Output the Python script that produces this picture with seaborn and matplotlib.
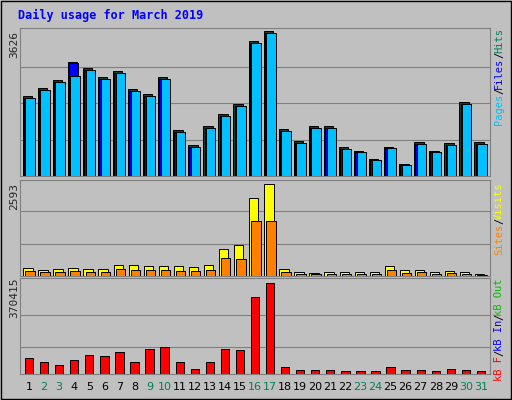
import matplotlib
matplotlib.use("Agg")
import matplotlib.pyplot as plt
import seaborn as sns
import numpy as np

sns.set_style("white")
plt.rcParams['font.family'] = ['DejaVu Sans Mono', 'DejaVu Sans']

days = list(range(1, 32))
weekend = [2, 3, 9, 10, 16, 17, 23, 24, 30, 31]
hits = [2010, 2210, 2400, 2850, 2700, 2480, 2630, 2180, 2060, 2480,
        1140, 770, 1240, 1540, 1790, 3370, 3620, 1170, 870, 1260,
        1240, 720, 620, 420, 720, 300, 840, 620, 820, 1850, 840]
files = [1960, 2140, 2340, 2830, 2640, 2420, 2570, 2120, 2000, 2420,
         1090, 720, 1190, 1490, 1740, 3320, 3570, 1120, 820, 1210,
         1190, 680, 590, 390, 690, 270, 800, 590, 780, 1800, 800]
pages = [1960, 2140, 2340, 2500, 2640, 2420, 2570, 2120, 2000, 2420,
         1090, 720, 1190, 1490, 1740, 3320, 3570, 1120, 820, 1210,
         1190, 680, 590, 390, 690, 270, 800, 590, 780, 1800, 800]
visits = [230, 180, 200, 230, 200, 200, 320, 310, 290, 290,
          270, 240, 300, 770, 860, 2190, 2593, 190, 120, 80,
          100, 110, 110, 110, 270, 160, 170, 120, 140, 110, 60]
sites = [130, 110, 120, 150, 110, 120, 190, 180, 170, 160,
         150, 140, 180, 510, 480, 1540, 1540, 110, 70, 50,
         60, 70, 70, 70, 160, 90, 100, 70, 80, 70, 30]
kbytes = [66000, 50000, 36000, 55000, 78000, 74000, 90000, 50000, 103000, 108000,
          48000, 20000, 50000, 102000, 96000, 313000, 370415, 28000, 17000, 16000,
          16000, 12000, 12000, 12000, 28000, 16000, 16000, 12000, 20000, 18000, 12000]

bg = "#c0c0c0"
fig = plt.figure(figsize=(5.12, 4.0), dpi=100, facecolor=bg)
W, H = 512, 400
def mk(y0, y1):
    ax = fig.add_axes([20/W, 1-y1/H, 470/W, (y1-y0)/H], facecolor=bg)
    ax.set_xlim(0.4, 31.6)
    for s in ax.spines.values():
        s.set_color("#808080")
    ax.set_xticks([]); ax.set_yticks([])
    return ax

x = np.array(days)
ax1 = mk(28, 176)
ax1.set_ylim(0, 3626*1.02)
for g in [3626*0.25, 3626*0.5, 3626*0.75]:
    ax1.axhline(g, color="#808080", lw=0.8, zorder=0)
ax1.bar(x-0.12, hits, 0.62, color="#104030", edgecolor="black", lw=0.7)
ax1.bar(x-0.04, files, 0.62, color="#0000ff", edgecolor="black", lw=0.7)
ax1.bar(x+0.06, pages, 0.62, color="#00c0ff", edgecolor="black", lw=0.7)

ax2 = mk(180, 276)
ax2.set_ylim(0, 2593*1.04)
for g in [2593*0.35, 2593*0.7]:
    ax2.axhline(g, color="#808080", lw=0.8, zorder=0)
ax2.bar(x-0.08, visits, 0.62, color="#ffff00", edgecolor="black", lw=0.7)
ax2.bar(x+0.06, sites, 0.62, color="#ff8000", edgecolor="black", lw=0.7)

ax3 = mk(278, 374)
ax3.set_ylim(0, 370415*1.05)
for g in [370415*0.3, 370415*0.65]:
    ax3.axhline(g, color="#808080", lw=0.8, zorder=0)
ax3.bar(x, kbytes, 0.55, color="#ff0000", edgecolor="black", lw=0.7)

for d in days:
    ax3.text(d, -0.08, str(d), transform=ax3.get_xaxis_transform(), ha="center", va="top",
             fontsize=8, color="#00805c" if d in weekend else "black", family="DejaVu Sans")

fig.text(18/W, 1-15/H, "Daily usage for March 2019", color="#0000ff", fontsize=8.5,
         fontweight="bold", va="center")
fig.text(14/W, 1-45/H, "3626", rotation=90, fontsize=8, ha="center", va="center")
fig.text(14/W, 1-196/H, "2593", rotation=90, fontsize=8, ha="center", va="center")
fig.text(14/W, 1-298/H, "370415", rotation=90, fontsize=8, ha="center", va="center")

def vlabel(xp, ytop, parts):
    y = ytop
    for txt, col in parts:
        fig.text(xp/W, 1-y/H, txt, rotation=90, color=col, fontsize=7.5, ha="center", va="top")
        y += len(txt)*6.0
vlabel(499, 28, [("Hits", "#00805c"), ("/", "black"), ("Files", "#0000ff"), ("/", "black"), ("Pages", "#00c0ff")])
vlabel(499, 182, [("Visits", "#ffff00"), ("/", "black"), ("Sites", "#ff8000")])
vlabel(499, 278, [("kB Out", "#00c000"), ("/", "black"), ("kB In", "#0000ff"), ("/", "black"), ("kB F", "#ff0000")])
fig.add_artist(plt.Rectangle((0.002, 0.002), 0.996, 0.996, transform=fig.transFigure,
                             fill=False, edgecolor="black", lw=1))
fig.savefig("out.png", dpi=100, facecolor=bg)
